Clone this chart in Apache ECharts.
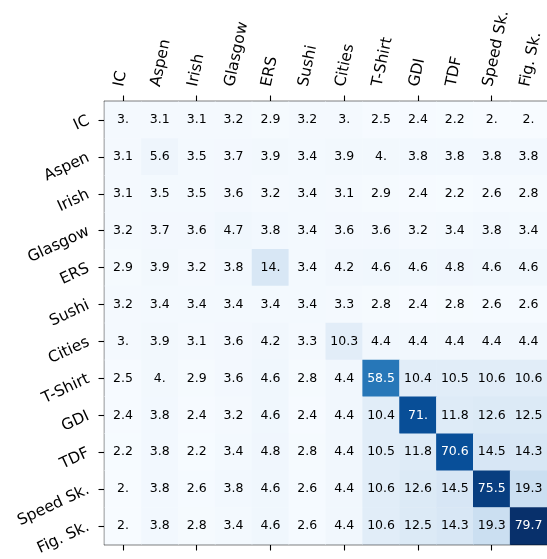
<!DOCTYPE html>
<html>
<head>
<meta charset="utf-8">
<script src="https://cdn.jsdelivr.net/npm/echarts@6/dist/echarts.min.js"></script>
<style>
  html, body { margin: 0; padding: 0; background: #fff; }
  #chart { width: 547px; height: 559px; }
</style>
</head>
<body>
<div id="chart"></div>
<script>
// Category labels (same order on both axes)
const categories = ['IC', 'Aspen', 'Irish', 'Glasgow', 'ERS', 'Sushi', 'Cities',
  'T-Shirt', 'GDI', 'TDF', 'Speed Sk.', 'Fig. Sk.'];

// One row of the matrix per category, top to bottom
const rowIC      = [3.0, 3.1, 3.1, 3.2, 2.9, 3.2, 3.0, 2.5, 2.4, 2.2, 2.0, 2.0];
const rowAspen   = [3.1, 5.6, 3.5, 3.7, 3.9, 3.4, 3.9, 4.0, 3.8, 3.8, 3.8, 3.8];
const rowIrish   = [3.1, 3.5, 3.5, 3.6, 3.2, 3.4, 3.1, 2.9, 2.4, 2.2, 2.6, 2.8];
const rowGlasgow = [3.2, 3.7, 3.6, 4.7, 3.8, 3.4, 3.6, 3.6, 3.2, 3.4, 3.8, 3.4];
const rowERS     = [2.9, 3.9, 3.2, 3.8, 14.0, 3.4, 4.2, 4.6, 4.6, 4.8, 4.6, 4.6];
const rowSushi   = [3.2, 3.4, 3.4, 3.4, 3.4, 3.4, 3.3, 2.8, 2.4, 2.8, 2.6, 2.6];
const rowCities  = [3.0, 3.9, 3.1, 3.6, 4.2, 3.3, 10.3, 4.4, 4.4, 4.4, 4.4, 4.4];
const rowTShirt  = [2.5, 4.0, 2.9, 3.6, 4.6, 2.8, 4.4, 58.5, 10.4, 10.5, 10.6, 10.6];
const rowGDI     = [2.4, 3.8, 2.4, 3.2, 4.6, 2.4, 4.4, 10.4, 71.0, 11.8, 12.6, 12.5];
const rowTDF     = [2.2, 3.8, 2.2, 3.4, 4.8, 2.8, 4.4, 10.5, 11.8, 70.6, 14.5, 14.3];
const rowSpeed   = [2.0, 3.8, 2.6, 3.8, 4.6, 2.6, 4.4, 10.6, 12.6, 14.5, 75.5, 19.3];
const rowFig     = [2.0, 3.8, 2.8, 3.4, 4.6, 2.6, 4.4, 10.6, 12.5, 14.3, 19.3, 79.7];

const rows = [rowIC, rowAspen, rowIrish, rowGlasgow, rowERS, rowSushi, rowCities,
  rowTShirt, rowGDI, rowTDF, rowSpeed, rowFig];

// Sequential blue palette
const blues = ['#f7fbff', '#deebf7', '#c6dbef', '#9ecae1', '#6baed6',
  '#4292c6', '#2171b5', '#08519c', '#08306b'];

const allValues = rows.flat();
const vMin = Math.min(...allValues);
const vMax = Math.max(...allValues);
const textSwitch = (vMin + vMax) / 2;

const cells = [];
rows.forEach((row, r) => {
  row.forEach((v, c) => {
    cells.push({
      value: [c, r, v],
      label: { color: v > textSwitch ? '#ffffff' : '#000000' }
    });
  });
});

// "3." style for whole numbers, one decimal otherwise
function fmt(v) {
  return Number.isInteger(v) ? v + '.' : v.toFixed(1);
}

const FONT = 'DejaVu Sans';
const plot = { left: 104.5, top: 101.5, width: 443, height: 443 };
const frame = { show: true, lineStyle: { color: '#000', width: 1.3 } };
const ticks = { show: true, alignWithLabel: true, length: 6, lineStyle: { color: '#000', width: 1.1 } };

const chart = echarts.init(document.getElementById('chart'), null, { renderer: 'canvas' });
chart.setOption({
  animation: false,
  backgroundColor: '#fff',
  grid: [
    Object.assign({}, plot),
    // label-only grid, nudged left so rotated names sit centred over the ticks
    Object.assign({}, plot, { left: plot.left - 4 })
  ],
  xAxis: [
    {
      type: 'category', data: categories, gridIndex: 0, position: 'bottom',
      axisLine: frame, axisTick: ticks, axisLabel: { show: false },
      splitLine: { show: false }
    },
    {
      type: 'category', data: categories, gridIndex: 0, position: 'top',
      axisLine: frame, axisTick: ticks, axisLabel: { show: false },
      splitLine: { show: false }
    },
    {
      type: 'category', data: categories, gridIndex: 1, position: 'top',
      axisLine: { show: false }, axisTick: { show: false },
      axisLabel: {
        show: true, interval: 0, rotate: -78, margin: 15,
        fontFamily: FONT, fontSize: 15.5, color: '#000'
      },
      splitLine: { show: false }
    }
  ],
  yAxis: [
    {
      type: 'category', data: categories, gridIndex: 0, inverse: true, position: 'left',
      axisLine: frame, axisTick: ticks,
      axisLabel: {
        show: true, interval: 0, rotate: 25, margin: 16,
        align: 'right', verticalAlign: 'middle',
        fontFamily: FONT, fontSize: 15.5, color: '#000'
      },
      splitLine: { show: false }
    },
    {
      type: 'category', data: categories, gridIndex: 0, inverse: true, position: 'right',
      axisLine: frame, axisTick: ticks, axisLabel: { show: false },
      splitLine: { show: false }
    },
    {
      type: 'category', data: categories, gridIndex: 1, inverse: true,
      show: false
    }
  ],
  visualMap: {
    show: false, type: 'continuous', min: vMin, max: vMax,
    dimension: 2, seriesIndex: 0, inRange: { color: blues }
  },
  series: [{
    type: 'heatmap',
    xAxisIndex: 0, yAxisIndex: 0,
    data: cells,
    label: {
      show: true, fontFamily: FONT, fontSize: 12.5,
      formatter: p => fmt(p.value[2])
    },
    itemStyle: { borderWidth: 0 },
    emphasis: { disabled: true }
  }]
});
</script>
</body>
</html>
